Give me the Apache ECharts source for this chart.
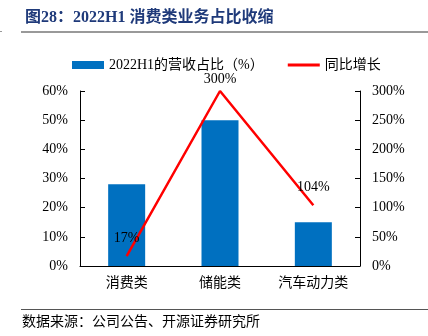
<!DOCTYPE html>
<html><head><meta charset="utf-8">
<script src="https://cdn.jsdelivr.net/npm/echarts@6/dist/echarts.min.js"></script>
<style>html,body{margin:0;padding:0;background:#fff}#c{width:428px;height:336px}</style>
</head><body><div id="c"></div>
<script>
const categories = ['消费类', '储能类', '汽车动力类'];
const shareValues = [28, 50, 15];
const growthValues = [17, 300, 104];
const leftTicks = [0, 60, 10];
const rightTicks = [0, 300, 50];
const FONT = '"Liberation Serif", "Noto Sans CJK SC", serif';
const chart = echarts.init(document.getElementById('c'));
const growthMax = Math.max(...growthValues);
chart.setOption({
  animation: false,
  title: {
    text: '图28：2022H1 消费类业务占比收缩',
    left: 20, top: 5,
    textStyle: { fontFamily: FONT, fontSize: 16, fontWeight: 'bold', color: '#1F3A7A' }
  },
  legend: {
    top: 53, left: 67, itemGap: 24,
    textStyle: { fontFamily: FONT, fontSize: 14, color: '#000' },
    itemWidth: 32, itemHeight: 8,
    data: [
      { name: '2022H1的营收占比（%）', icon: 'rect' },
      { name: '同比增长', icon: 'path://M0,0 L10,0 L10,1 L0,1 Z' }
    ]
  },
  grid: { left: 80, right: 68, top: 91, bottom: 70 },
  xAxis: {
    type: 'category', data: categories,
    axisLine: { lineStyle: { color: '#000' } },
    axisTick: { inside: true, length: 4, lineStyle: { color: '#888' } },
    axisLabel: { fontFamily: FONT, fontSize: 14, color: '#000', margin: 10 }
  },
  yAxis: [
    { type: 'value', min: leftTicks[0], max: leftTicks[1], interval: leftTicks[2],
      axisLine: { show: true, lineStyle: { color: '#000' } },
      axisTick: { show: true, inside: true, length: 5, lineStyle: { color: '#000' } },
      splitLine: { show: false },
      axisLabel: { formatter: '{value}%', fontFamily: FONT, fontSize: 14, color: '#000', margin: 12 } },
    { type: 'value', min: rightTicks[0], max: rightTicks[1], interval: rightTicks[2],
      axisLine: { show: true, lineStyle: { color: '#000' } },
      axisTick: { show: true, inside: true, length: 5, lineStyle: { color: '#000' } },
      splitLine: { show: false },
      axisLabel: { formatter: '{value}%', fontFamily: FONT, fontSize: 14, color: '#000', margin: 12 } }
  ],
  series: [
    { name: '2022H1的营收占比（%）', type: 'bar', data: shareValues, barWidth: 37,
      itemStyle: { color: '#0070C0' } },
    { name: '同比增长', type: 'line', yAxisIndex: 1,
      data: growthValues.map(v => v === growthMax ? { value: v, label: { distance: 5 } } : v),
      symbol: 'circle', symbolSize: 0, showSymbol: true,
      lineStyle: { color: '#FF0000', width: 2.5 }, itemStyle: { color: '#FF0000' },
      label: { show: true, position: 'top', distance: 11, formatter: '{c}%', fontFamily: FONT, fontSize: 14, color: '#000' } }
  ],
  graphic: [
    { type: 'rect', shape: { x: 21, y: 31, width: 407, height: 2 }, style: { fill: '#999' } },
    { type: 'rect', shape: { x: 0, y: 31, width: 2, height: 1 }, style: { fill: '#999' } },
    { type: 'rect', shape: { x: 21, y: 309, width: 407, height: 1 }, style: { fill: '#555' } },
    { type: 'text', left: 22, top: 315, style: { text: '数据来源：公司公告、开源证券研究所', fontFamily: FONT, fontSize: 14, fill: '#000' } }
  ]
});
</script></body></html>
